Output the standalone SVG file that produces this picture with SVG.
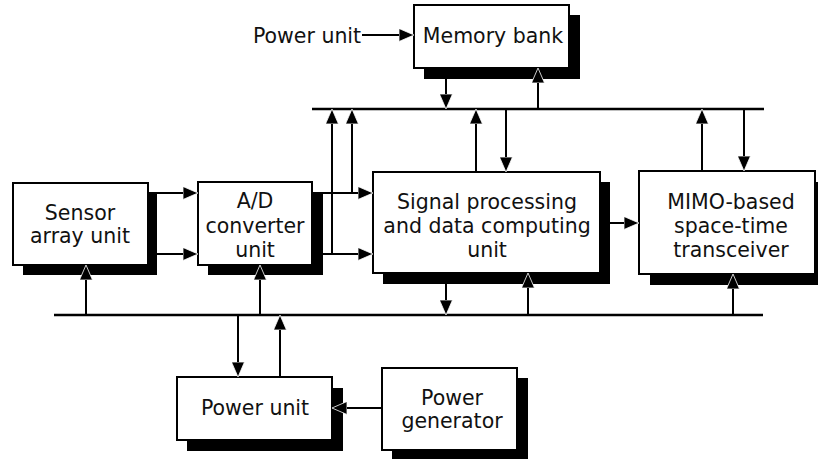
<svg xmlns="http://www.w3.org/2000/svg" width="818" height="459" viewBox="0 0 818 459">
<style>
.sh{fill:#000}
.bx{fill:#fff;stroke:#000;stroke-width:2}
.t{font-family:"DejaVu Sans","Verdana",sans-serif;font-size:20.5px;fill:#111;text-anchor:middle}
.c{fill:none;stroke:#000;stroke-width:2}
.a{marker-end:url(#ah)}
.bus{fill:none;stroke:#000;stroke-width:2.5}
</style>
<defs>
<marker id="ah" viewBox="0 0 15 13" markerWidth="15" markerHeight="13" refX="15" refY="6.5" orient="auto" markerUnits="userSpaceOnUse">
<path d="M0,0 L15,6.5 L0,13 z" fill="#000" stroke="#fff" stroke-width="0.8"/>
</marker>
</defs>
<rect width="818" height="459" fill="#fff"/>

<g id="memory-bank">
<rect class="sh" x="424" y="15" width="156" height="64"/>
<rect class="bx" x="414" y="5" width="155" height="63"/>
<text class="t" x="493" y="43">Memory bank</text>
</g>
<g id="sensor-array">
<rect class="sh" x="23" y="193" width="134" height="82"/>
<rect class="bx" x="13" y="183" width="135" height="82"/>
<text class="t" x="80" y="220">Sensor</text>
<text class="t" x="80" y="243">array unit</text>
</g>
<g id="ad-converter">
<rect class="sh" x="208" y="192" width="115" height="83"/>
<rect class="bx" x="198" y="182" width="114" height="83"/>
<text class="t" x="255" y="208">A/D</text>
<text class="t" x="255" y="233">converter</text>
<text class="t" x="255" y="257">unit</text>
</g>
<g id="signal-processing">
<rect class="sh" x="383" y="182" width="227" height="102"/>
<rect class="bx" x="373" y="172" width="227" height="101"/>
<text class="t" x="487" y="209">Signal processing</text>
<text class="t" x="487" y="233">and data computing</text>
<text class="t" x="487" y="257">unit</text>
</g>
<g id="mimo-transceiver">
<rect class="sh" x="650" y="182" width="178" height="103"/>
<rect class="bx" x="639" y="171" width="176" height="103"/>
<text class="t" x="731" y="209">MIMO-based</text>
<text class="t" x="731" y="233">space-time</text>
<text class="t" x="731" y="257">transceiver</text>
</g>
<g id="power-unit">
<rect class="sh" x="187" y="388" width="156" height="63"/>
<rect class="bx" x="177" y="377" width="155" height="63"/>
<text class="t" x="255" y="415">Power unit</text>
</g>
<g id="power-generator">
<rect class="sh" x="392" y="378" width="136" height="81"/>
<rect class="bx" x="382" y="368" width="135" height="82"/>
<text class="t" x="452" y="405">Power</text>
<text class="t" x="452" y="428">generator</text>
</g>
<g id="power-unit-label">
<text class="t" x="307" y="43">Power unit</text>
</g>

<g id="connectors">
<path class="bus" d="M312,109 H764"/>
<path class="bus" d="M54,315 H763"/>
<path class="c a" d="M362,35 H414"/>
<path class="c a" d="M446,68 V109"/>
<path class="c a" d="M538,109 V68"/>
<path class="c a" d="M332,254 V109"/>
<path class="c a" d="M352,193 V109"/>
<path class="c a" d="M476,172 V109"/>
<path class="c a" d="M506,109 V172"/>
<path class="c a" d="M702,171 V109"/>
<path class="c a" d="M744,109 V171"/>
<path class="c a" d="M148,193 H198"/>
<path class="c a" d="M148,254 H198"/>
<path class="c a" d="M312,193 H373"/>
<path class="c a" d="M312,254 H373"/>
<path class="c a" d="M600,223 H639"/>
<path class="c a" d="M446,273 V315"/>
<path class="c a" d="M528,315 V273"/>
<path class="c a" d="M733,315 V274"/>
<path class="c a" d="M86,315 V265"/>
<path class="c a" d="M260,315 V265"/>
<path class="c a" d="M238,315 V377"/>
<path class="c a" d="M280,377 V315"/>
<path class="c a" d="M382,408 H332"/>
</g>
</svg>
